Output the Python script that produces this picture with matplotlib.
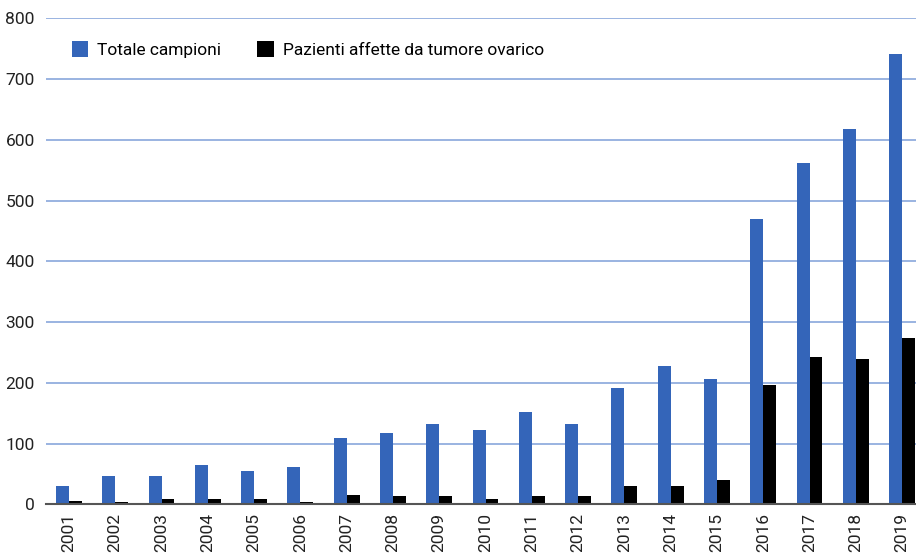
import matplotlib.pyplot as plt
import numpy as np

plt.rcParams['font.family'] = ['Roboto', 'DejaVu Sans']

anni = ['2001', '2002', '2003', '2004', '2005', '2006', '2007', '2008', '2009', '2010',
        '2011', '2012', '2013', '2014', '2015', '2016', '2017', '2018', '2019']
totale = [30, 46, 46, 64, 55, 62, 109, 117, 132, 122, 152, 133, 192, 228, 207, 470, 562, 617, 741]
pazienti = [5, 4, 8, 8, 8, 4, 15, 14, 13, 8, 14, 13, 30, 30, 40, 196, 242, 240, 273]

blu = '#3465b9'
x = np.arange(len(anni))
w = 0.28

fig = plt.figure(figsize=(9.16, 5.53), dpi=100)
ax = fig.add_axes([0.050, 0.088, 0.950, 0.879])

ax.bar(x - w / 2, totale, w, color=blu, label='Totale campioni', zorder=3)
ax.bar(x + w / 2, pazienti, w, color='black', label='Pazienti affette da tumore ovarico', zorder=3)

ax.set_xlim(-0.5, 18.3)
ax.set_ylim(0, 800)
ax.set_yticks(range(0, 801, 100))
ax.set_xticks(x)
ax.set_xticklabels(anni, rotation=90)
ax.yaxis.grid(True, color='#7f9fd8', linewidth=1.1, zorder=0)
ax.tick_params(axis='both', length=0, labelsize=12.5, colors='#222222')
ax.tick_params(axis='y', pad=8)
ax.tick_params(axis='x', pad=6)
for s in ['top', 'right', 'left']:
    ax.spines[s].set_visible(False)
ax.spines['bottom'].set_color('#555555')
ax.spines['bottom'].set_linewidth(1.5)
ax.spines['bottom'].set_zorder(4)

ax.legend(loc='upper left', bbox_to_anchor=(0.012, 0.985), ncol=2, frameon=False,
          fontsize=12.5, handlelength=0.95, handleheight=1.0, columnspacing=2.1,
          handletextpad=0.5)

fig.savefig('out.png', dpi=100)
